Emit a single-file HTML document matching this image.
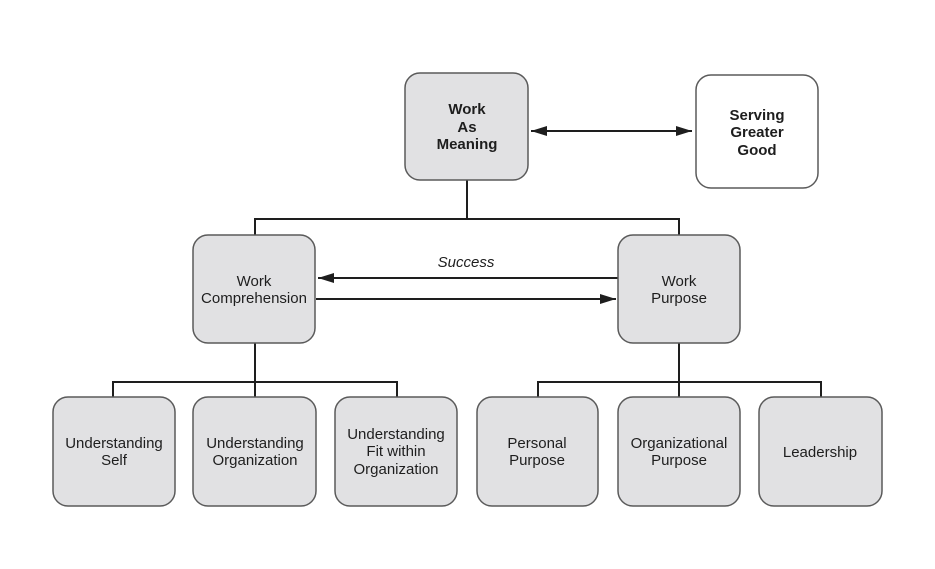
<!DOCTYPE html>
<html>
<head>
<meta charset="utf-8">
<style>
html,body{margin:0;padding:0;background:#fff;}
svg{display:block;}
text{font-family:"Liberation Sans",Arial,sans-serif;font-size:15px;fill:#1e1e1e;text-anchor:middle;}
.b{font-weight:bold;}
</style>
</head>
<body>
<svg width="935" height="569" viewBox="0 0 935 569" xmlns="http://www.w3.org/2000/svg">
<defs>
<marker id="ah" markerWidth="10" markerHeight="8" refX="10" refY="4" orient="auto" markerUnits="userSpaceOnUse">
<path d="M0,0 L10,4 L0,8 Z" fill="#1e1e1e"/>
</marker>
<marker id="ah2" markerWidth="16" markerHeight="10" refX="16" refY="5" orient="auto" markerUnits="userSpaceOnUse">
<path d="M0,0 L16,5 L0,10 Z" fill="#1e1e1e"/>
</marker>
</defs>
<g stroke="#1e1e1e" stroke-width="2" fill="none">
<!-- top tree -->
<line x1="467" y1="180" x2="467" y2="219"/>
<polyline points="255,236 255,219 679,219 679,236"/>
<!-- left tree -->
<line x1="255" y1="343" x2="255" y2="397"/>
<polyline points="113,397 113,382 397,382 397,397"/>
<!-- right tree -->
<line x1="679" y1="343" x2="679" y2="397"/>
<polyline points="538,397 538,382 821,382 821,397"/>
<!-- arrows -->
<line x1="618" y1="278" x2="318" y2="278" marker-end="url(#ah2)"/>
<line x1="316" y1="299" x2="616" y2="299" marker-end="url(#ah2)"/>
<line x1="531" y1="131" x2="692" y2="131" marker-end="url(#ah2)" marker-start="url(#ahs)"/>
</g>
<path d="M531,131 L547,126 L547,136 Z" fill="#1e1e1e"/>
<g stroke="#5a5a5a" stroke-width="1.5" fill="#e1e1e3">
<rect x="405" y="73" width="123" height="107" rx="15"/>
<rect x="696" y="75" width="122" height="113" rx="15" fill="#fff"/>
<rect x="193" y="235" width="122" height="108" rx="15"/>
<rect x="618" y="235" width="122" height="108" rx="15"/>
<rect x="53" y="397" width="122" height="109" rx="15"/>
<rect x="193" y="397" width="123" height="109" rx="15"/>
<rect x="335" y="397" width="122" height="109" rx="15"/>
<rect x="477" y="397" width="121" height="109" rx="15"/>
<rect x="618" y="397" width="122" height="109" rx="15"/>
<rect x="759" y="397" width="123" height="109" rx="15"/>
</g>
<text class="b" x="467" y="114">Work</text>
<text class="b" x="467" y="132">As</text>
<text class="b" x="467" y="149">Meaning</text>
<text class="b" x="757" y="120">Serving</text>
<text class="b" x="757" y="137">Greater</text>
<text class="b" x="757" y="155">Good</text>
<text x="254" y="286">Work</text>
<text x="254" y="303">Comprehension</text>
<text x="679" y="286">Work</text>
<text x="679" y="303">Purpose</text>
<text x="466" y="267" font-style="italic">Success</text>
<text x="114" y="448">Understanding</text>
<text x="114" y="465">Self</text>
<text x="255" y="448">Understanding</text>
<text x="255" y="465">Organization</text>
<text x="396" y="439">Understanding</text>
<text x="396" y="456">Fit within</text>
<text x="396" y="474">Organization</text>
<text x="537" y="448">Personal</text>
<text x="537" y="465">Purpose</text>
<text x="679" y="448">Organizational</text>
<text x="679" y="465">Purpose</text>
<text x="820" y="457">Leadership</text>
</svg>
</body>
</html>
